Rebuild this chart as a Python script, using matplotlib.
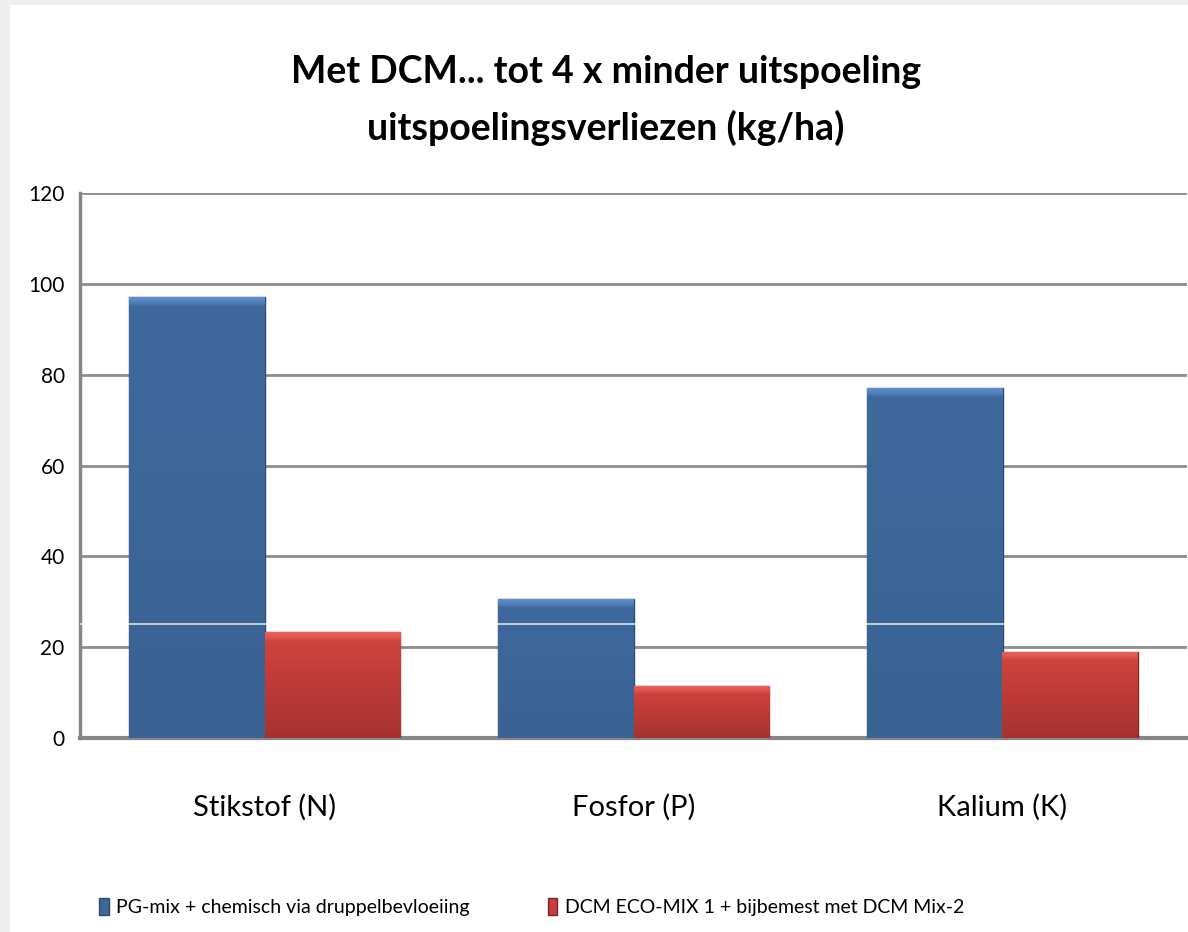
import matplotlib
matplotlib.use("Agg")
import matplotlib.pyplot as plt
from matplotlib.patches import Rectangle, Patch
from matplotlib.colors import to_rgb
import numpy as np

plt.rcParams['font.family'] = ['Lato', 'DejaVu Sans']

# data
categories = ['Stikstof (N)', 'Fosfor (P)', 'Kalium (K)']
pg_mix = [97, 30.5, 77]
dcm_eco = [23.3, 11.5, 19]
series_names = ['PG-mix + chemisch via druppelbevloeiing',
                'DCM ECO-MIX 1 + bijbemest met DCM Mix-2']
yticks = [0, 20, 40, 60, 80, 100, 120]

blue = '#3d6699'
red = '#c43d3b'
# (top bevel, body top, body bottom) per series
blue_shade = ('#5f8fcc', '#3f699d', '#3a6293')
red_shade = ('#e9625c', '#d4443f', '#a53230')

fig = plt.figure(figsize=(11.88, 9.32), dpi=100)
fig.patch.set_facecolor('#efeeec')
# white panel inside the grey border
fig.patches.append(Rectangle((10 / 1188, 0), 1, 1 - 5 / 932, transform=fig.transFigure,
                             facecolor='white', edgecolor='none', zorder=-5))

ax = fig.add_axes([80 / 1188, 1 - 738 / 932, 1107 / 1188, 545 / 932])
ax.set_facecolor('white')

x = np.arange(len(categories))
w = 0.366
b1 = ax.bar(x - w / 2, pg_mix, w, color=blue, edgecolor='#2b4a72', linewidth=1, zorder=3)
b2 = ax.bar(x + w / 2, dcm_eco, w, color=red, edgecolor='#7a2523', linewidth=1, zorder=3)


def shade(bars, cols):
    # vertical gradient with a lighter bevel at the top, clipped to each bar
    top_c, mid_c, bot_c = [np.array(to_rgb(c)) for c in cols]
    for b in bars:
        x0, y0 = b.get_x(), b.get_y()
        bw, bh = b.get_width(), b.get_height()
        n = 400
        ys = np.linspace(1, 0, n)
        img = np.zeros((n, 1, 3))
        bevel = 1.8 / bh
        for i, t in enumerate(ys):
            base = bot_c + (mid_c - bot_c) * t
            if t > 1 - bevel:
                f = (t - (1 - bevel)) / bevel
                img[i, 0] = base + (top_c - base) * f ** 0.6
            else:
                img[i, 0] = base
        im = ax.imshow(img, extent=[x0, x0 + bw, y0, y0 + bh], aspect='auto',
                       zorder=3.5, interpolation='bilinear')
        im.set_clip_path(b)


shade(b1, blue_shade)
shade(b2, red_shade)

# thin white artefact line seen across the blue bars
ax.axhline(25, color='white', lw=1.2, alpha=0.8, zorder=4)

ax.set_xlim(-0.5, 2.5)
ax.set_ylim(0, 120)
ax.set_yticks(yticks)
ax.set_yticklabels([str(t) for t in yticks], fontsize=15)
ax.set_xticks(x)
ax.set_xticklabels(categories, fontsize=21)
ax.tick_params(axis='both', length=0)
ax.tick_params(axis='y', pad=11)
ax.tick_params(axis='x', pad=40)

ax.yaxis.grid(True, color='#8c8c8c', lw=2, zorder=1)
ax.set_axisbelow(True)
for s in ['top', 'right']:
    ax.spines[s].set_visible(False)
ax.spines['left'].set_color('#868686')
ax.spines['left'].set_linewidth(2.5)
ax.spines['bottom'].set_color('#868686')
ax.spines['bottom'].set_linewidth(3)

fig.text(606 / 1188, 1 - 72 / 932, 'Met DCM... tot 4 x minder uitspoeling',
         ha='center', va='center', fontsize=27, fontweight='bold')
fig.text(606 / 1188, 1 - 128 / 932, 'uitspoelingsverliezen (kg/ha)',
         ha='center', va='center', fontsize=27, fontweight='bold')

handles = [Patch(facecolor=blue, edgecolor='#2b4a72'),
           Patch(facecolor=red, edgecolor='#7a2523')]
fig.legend(handles, series_names, loc='center left', bbox_to_anchor=(91 / 1188, 1 - 907 / 932),
           ncol=2, frameon=False, fontsize=14, handlelength=0.5, handleheight=1.0,
           handletextpad=0.4, columnspacing=4.0, borderaxespad=0)

fig.savefig('out.png', dpi=100)
